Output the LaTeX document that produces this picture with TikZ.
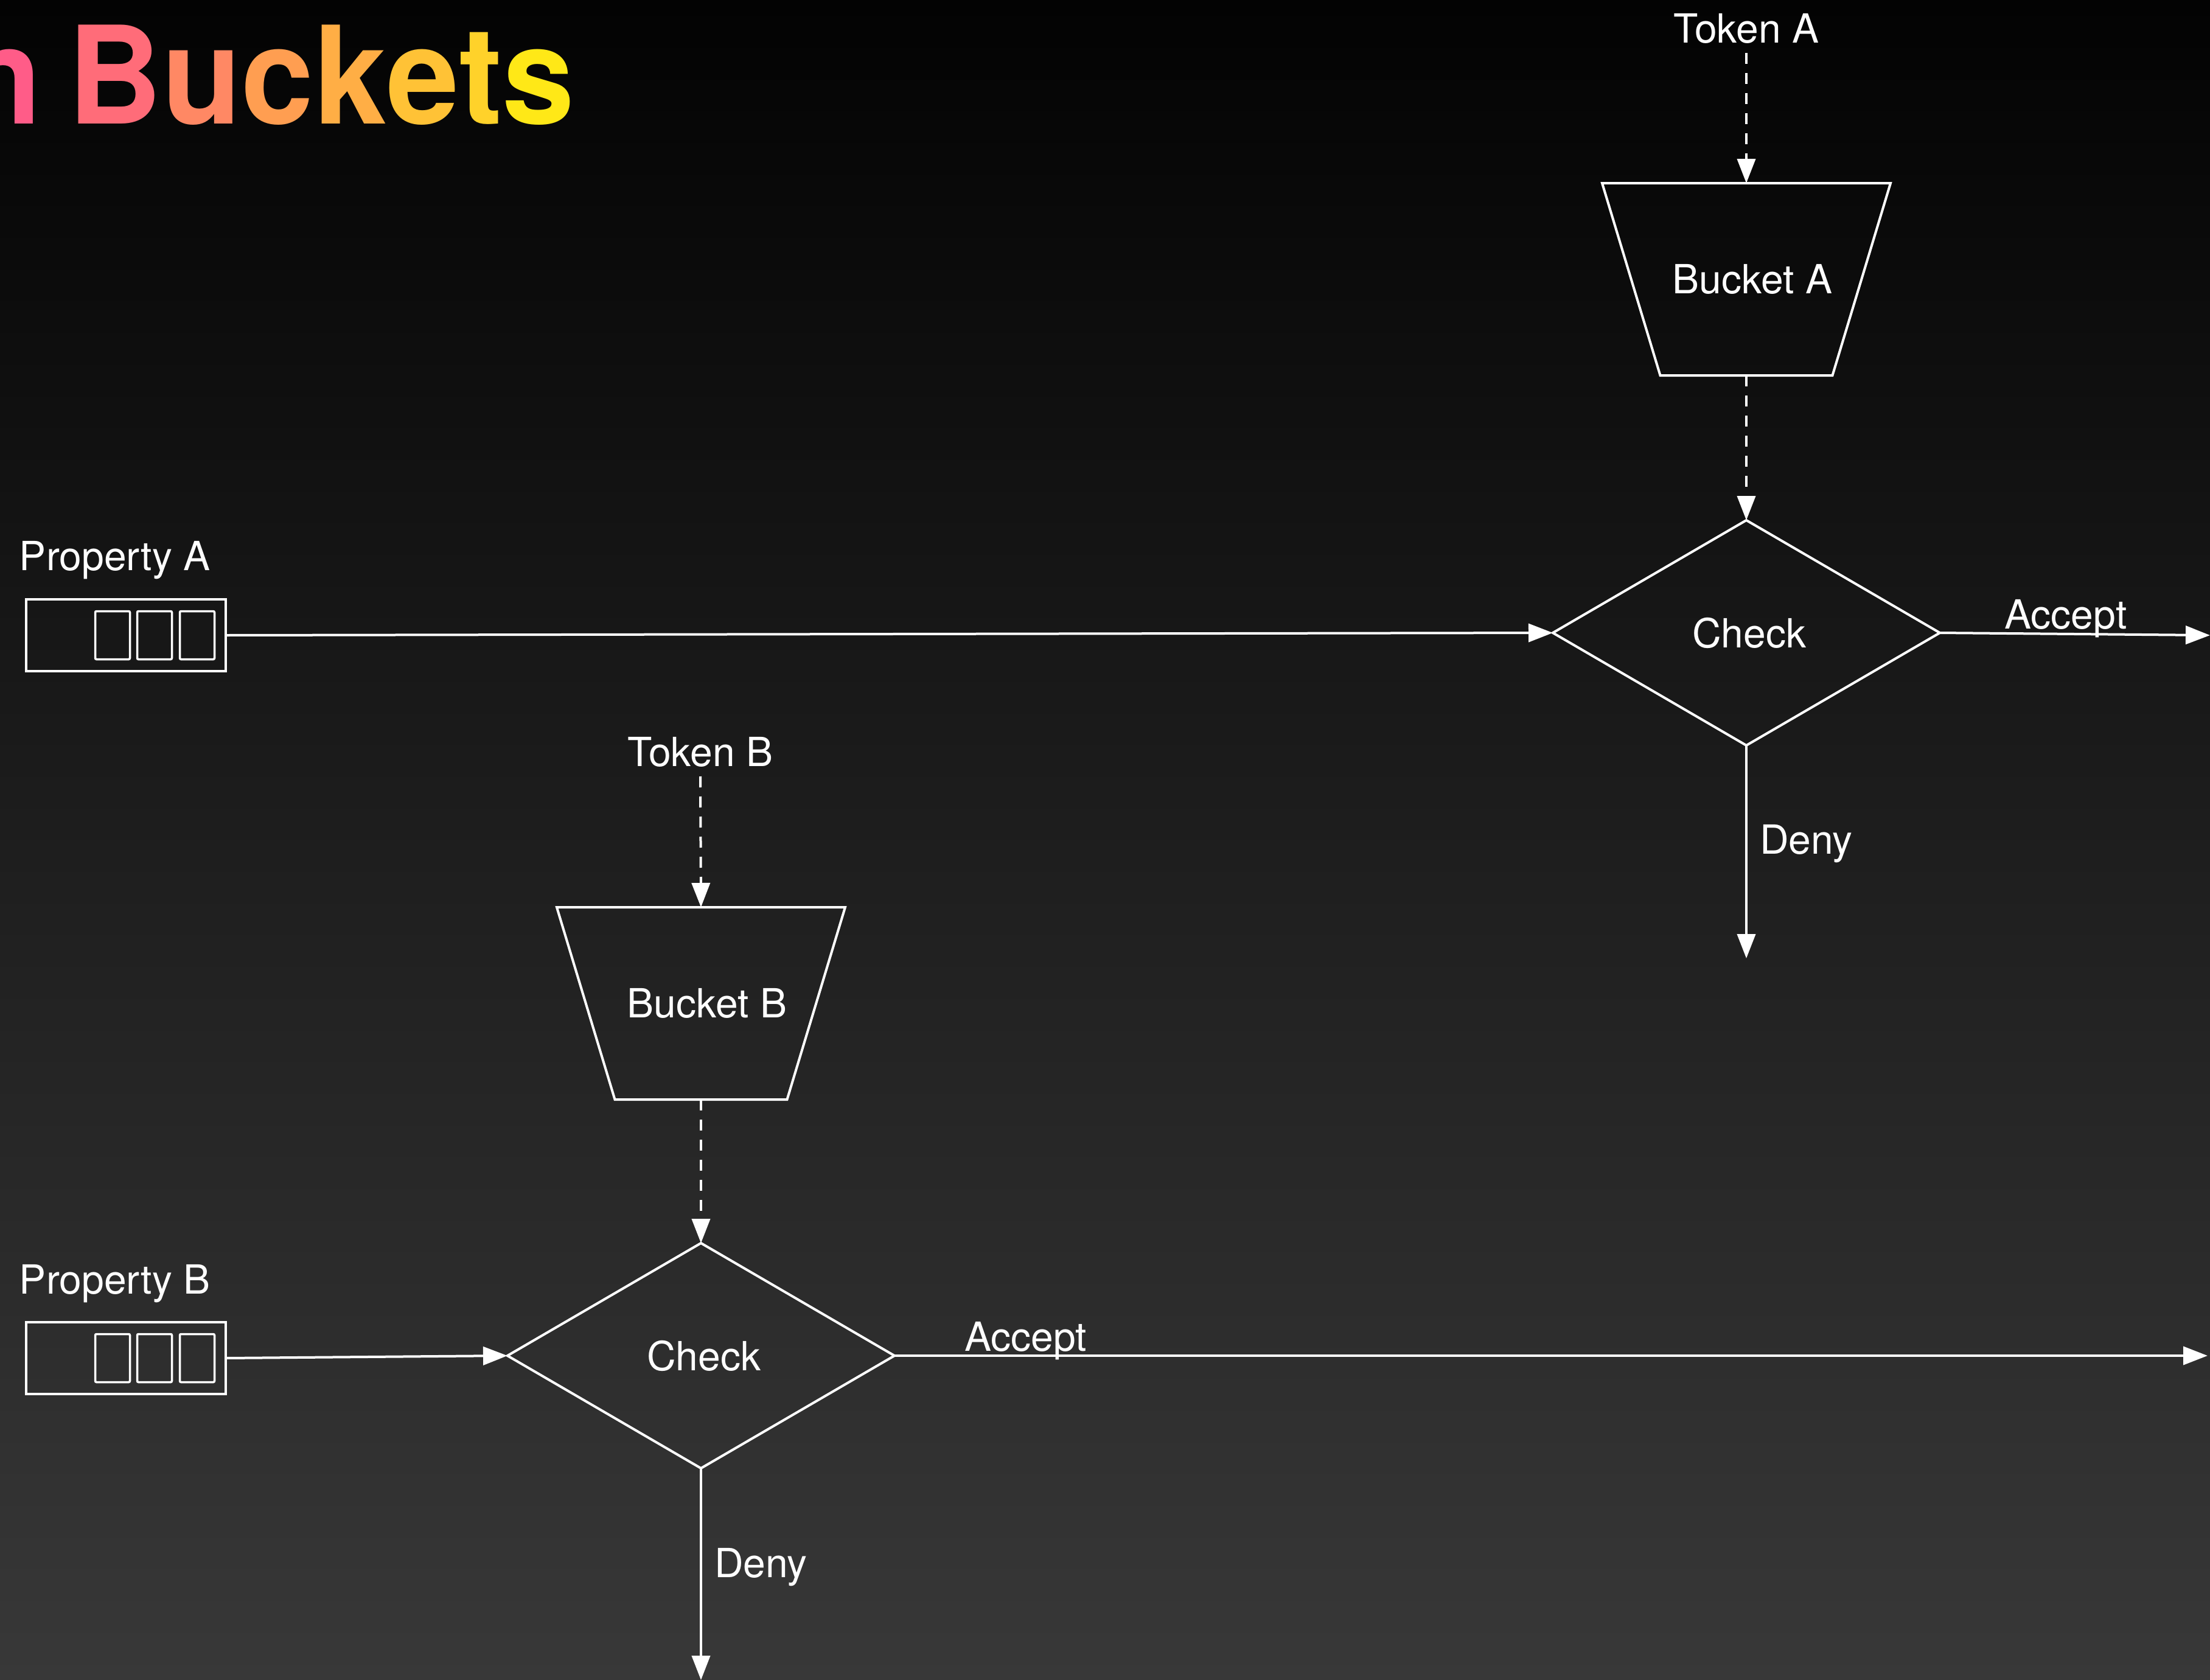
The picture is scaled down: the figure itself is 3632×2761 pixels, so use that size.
\documentclass[tikz,border=0pt]{standalone}
\usepackage{fontspec}
\setmainfont{TeX Gyre Heros}
\usepackage{graphicx}
\usetikzlibrary{arrows.meta,shapes.geometric,calc}

\definecolor{bgtop}{HTML}{030303}
\definecolor{bgbottom}{HTML}{383838}
% warm ramp of the title, letter by letter
\definecolor{tc1}{HTML}{FF5C88}
\definecolor{tc2}{HTML}{FF6C79}
\definecolor{tc3}{HTML}{FF8864}
\definecolor{tc4}{HTML}{FF9E51}
\definecolor{tc5}{HTML}{FFAE45}
\definecolor{tc6}{HTML}{FFC236}
\definecolor{tc7}{HTML}{FFD22A}
\definecolor{tc8}{HTML}{FFE817}

\newcommand\lblfont{\fontsize{13.2pt}{16pt}\selectfont}
\newcommand\titletext{\bfseries\fontsize{44.6pt}{50pt}\selectfont\scalebox{0.96}[1]{%
  \textcolor{tc1}{n}\hspace{0.2em}\textcolor{tc2}{B}\textcolor{tc3}{u}\textcolor{tc4}{c}%
  \textcolor{tc5}{k}\textcolor{tc6}{e}\textcolor{tc7}{t}\textcolor{tc8}{s}}}

\tikzset{
  flow/.style={draw=white, line width=0.8pt, -{Triangle[width=6pt,length=8pt]}},
  feed/.style={flow, dash pattern=on 3.6pt off 3pt},
  plabel/.style={text=white, inner sep=0pt, anchor=base west, font=\lblfont},
  tokenlabel/.style={text=white, inner sep=3pt, anchor=base, font=\lblfont},
  queue/.style={draw=white, line width=0.7pt, minimum width=65.6pt, minimum height=23.6pt, inner sep=0pt, outer sep=0pt},
  slot/.style={draw=white, line width=0.7pt, rounded corners=0.4pt, minimum width=11.4pt, minimum height=15.8pt, inner sep=0pt},
  decision/.style={diamond, draw=white, text=white, line width=0.8pt, minimum width=127.2pt, minimum height=74pt, inner sep=0pt, outer sep=0pt, font=\lblfont},
  bucketbox/.style={text=white, minimum width=94.8pt, minimum height=63.2pt, inner sep=0pt, outer sep=0pt, font=\lblfont},
  bucketline/.style={draw=white, line width=0.8pt},
  edgelabel/.style={text=white, font=\lblfont, inner sep=4pt}
}

\begin{document}
\begin{tikzpicture}[x=0.2pt, y=-0.2pt]
  % background
  \shade[top color=bgtop, bottom color=bgbottom] (0,0) rectangle (3632,2761);
  \useasboundingbox (0,0) rectangle (3632,2761);

  % title (runs off the left edge)
  \node[anchor=base west, inner sep=0pt] (title) at (-63,203) {\titletext};

  % ---- flow A ----
  \node[plabel] (propAlabel) at (31,937) {Property A};
  \node[queue] (propA) at (207,1044) {};
  \node[slot] (propAs1) at (185,1044) {};
  \node[slot] (propAs2) at (254,1044) {};
  \node[slot] (propAs3) at (324,1044) {};

  \node[tokenlabel] (tokA) at (2870,70) {Token A};
  \node[bucketbox] (bucketA) at (2870,459) {\hspace*{4pt}Bucket A};
  \draw[bucketline] (bucketA.north west) -- (bucketA.north east)
    -- ($(bucketA.south east)+(-95.5,0)$) -- ($(bucketA.south west)+(95.5,0)$) -- cycle;
  \node[decision] (checkA) at (2870,1040) {\hspace*{2pt}Check};
  \coordinate (acceptA) at (3632,1044);
  \coordinate (denyA) at (2870,1575);

  \draw[feed] (tokA.south) -- (bucketA.north);
  \draw[feed] (bucketA.south) -- (checkA.north);
  \draw[flow] (propA.east) -- (checkA.west);
  \draw[flow] (checkA.east) -- node[edgelabel, pos=0.466, anchor=base, yshift=1.6pt] {Accept} (acceptA);
  \draw[flow] (checkA.south) -- node[edgelabel, pos=0.463, anchor=west] {Deny} (denyA);

  % ---- flow B ----
  \node[plabel] (propBlabel) at (31,2126) {Property B};
  \node[queue] (propB) at (207,2232) {};
  \node[slot] (propBs1) at (185,2232) {};
  \node[slot] (propBs2) at (254,2232) {};
  \node[slot] (propBs3) at (324,2232) {};

  \node[tokenlabel] (tokB) at (1151,1259) {Token B};
  \node[bucketbox] (bucketB) at (1152,1649) {\hspace*{4pt}Bucket B};
  \draw[bucketline] (bucketB.north west) -- (bucketB.north east)
    -- ($(bucketB.south east)+(-95.5,0)$) -- ($(bucketB.south west)+(95.5,0)$) -- cycle;
  \node[decision] (checkB) at (1152,2228) {\hspace*{2pt}Check};
  \coordinate (acceptB) at (3628,2228);
  \coordinate (denyB) at (1152,2761);

  \draw[feed] (tokB.south) -- (bucketB.north);
  \draw[feed] (bucketB.south) -- (checkB.north);
  \draw[flow] (propB.east) -- (checkB.west);
  \draw[flow] (checkB.east) -- node[edgelabel, pos=0.1, anchor=base, yshift=1.6pt] {Accept} (acceptB);
  \draw[flow] (checkB.south) -- node[edgelabel, pos=0.467, anchor=west] {Deny} (denyB);
\end{tikzpicture}
\end{document}
